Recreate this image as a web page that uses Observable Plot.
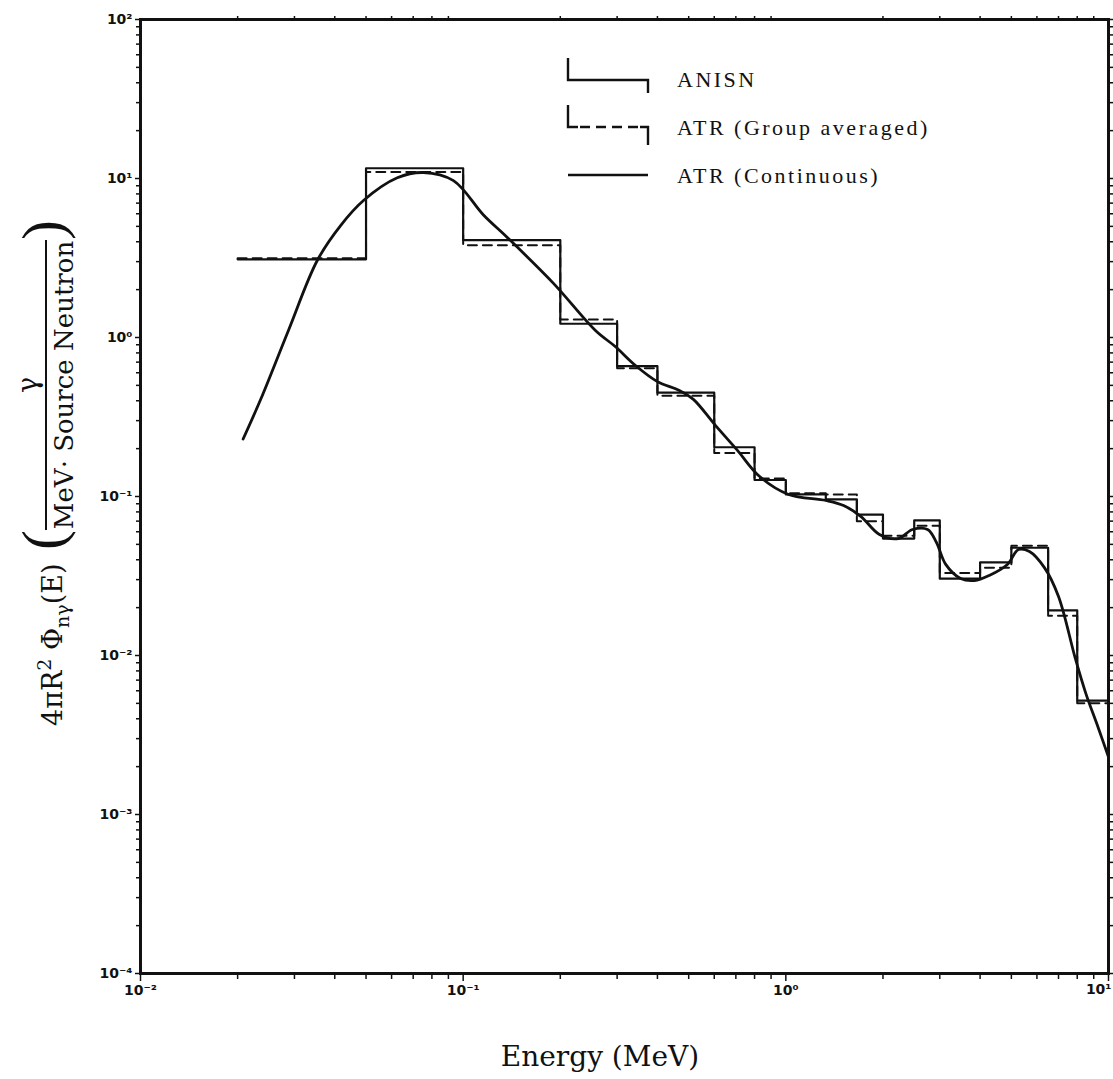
<!DOCTYPE html>
<html><head><meta charset="utf-8">
<script src="https://cdn.jsdelivr.net/npm/d3@7"></script>
<script src="https://cdn.jsdelivr.net/npm/@observablehq/plot@0.6"></script>
<style>html,body{margin:0;padding:0;background:#fff} svg{display:block}</style>
</head><body><div id="chart"></div>
<script>
// Group boundaries (MeV) of the 18-group gamma structure
const groupEdges = [0.02, 0.05, 0.1, 0.2, 0.3, 0.4, 0.6, 0.8, 1.0, 1.33, 1.66, 2.0, 2.5, 3.0, 4.0, 5.0, 6.5, 8.0, 10.0];
// ANISN group values (solid histogram)
const anisnFlux = [3.1, 11.6, 4.1, 1.22, 0.66, 0.45, 0.204, 0.127, 0.103, 0.096, 0.077, 0.0544, 0.0708, 0.0304, 0.0385, 0.0476, 0.0192, 0.0052];
// ATR group averaged values (dashed histogram)
const atrGroupFlux = [3.15, 11.0, 3.8, 1.3, 0.64, 0.43, 0.188, 0.13, 0.105, 0.103, 0.070, 0.0567, 0.0655, 0.033, 0.0356, 0.049, 0.0178, 0.0050];
// ATR continuous curve
const atrContEnergy = [0.0208, 0.0236, 0.0287, 0.0353, 0.0417, 0.0491, 0.0625, 0.0753, 0.0933, 0.1156, 0.137, 0.1905, 0.257, 0.296, 0.342, 0.400, 0.468, 0.517, 0.605, 0.708, 0.828, 1.02, 1.33, 1.51, 1.71, 1.95, 2.23, 2.47, 2.75, 2.93, 3.13, 3.48, 3.84, 4.27, 4.86, 5.26, 5.69, 6.33, 7.00, 7.89, 8.5, 9.3, 10.0];
const atrContFlux   = [0.23, 0.41, 1.1, 3.05, 5.06, 7.27, 10.1, 10.9, 9.7, 5.9, 4.26, 2.19, 1.107, 0.877, 0.667, 0.528, 0.464, 0.408, 0.280, 0.195, 0.134, 0.103, 0.0944, 0.0878, 0.0748, 0.0577, 0.0544, 0.0620, 0.0620, 0.0514, 0.0374, 0.0305, 0.0296, 0.0319, 0.0374, 0.0464, 0.0451, 0.0357, 0.0235, 0.0096, 0.0058, 0.0035, 0.0023];
// Axis ticks
const yTickValues = [1e-4, 1e-3, 1e-2, 1e-1, 1, 10, 100];
const yTickLabels = ["10⁻⁴", "10⁻³", "10⁻²", "10⁻¹", "10⁰", "10¹", "10²"];
const xTickValues = [0.01, 0.1, 1, 10];
const xTickLabels = ["10⁻²", "10⁻¹", "10⁰", "10¹"];
const legendLabels = ["ANISN", "ATR (Group averaged)", "ATR (Continuous)"];
const xTitle = "Energy (MeV)";

const stepRows = vals => groupEdges.map((e, i) => ({E: e, v: vals[Math.min(i, vals.length - 1)]}));
const contRows = atrContEnergy.map((e, i) => ({E: e, v: atrContFlux[i]}));
const minor = (lo, hi) => { const out = []; for (let p = lo; p < hi; p++) for (let m = 2; m <= 9; m++) out.push(m * Math.pow(10, p)); return out; };
const minorX = minor(-2, 1), minorY = minor(-4, 2);
const ink = "#111";
const tickText = {fontFamily: "DejaVu Sans", fontWeight: "bold", fontSize: 14, fill: ink};
const xLab = d => xTickLabels[xTickValues.indexOf(d)];

const plot = Plot.plot({
  width: 1113, height: 1079,
  marginLeft: 140, marginRight: 5, marginTop: 19, marginBottom: 106,
  style: {background: "#fff", color: ink},
  x: {type: "log", domain: [0.01, 10]},
  y: {type: "log", domain: [1e-4, 100]},
  marks: [
    Plot.axisX({anchor: "bottom", ticks: minorX, tickSize: 6, tickFormat: () => "", label: null, strokeWidth: 1.5}),
    Plot.axisX({anchor: "top", ticks: minorX, tickSize: 4, tickFormat: () => "", label: null, strokeWidth: 1.5}),
    Plot.axisX({anchor: "bottom", ticks: xTickValues.slice(0, 3), tickSize: 8, tickPadding: 4, label: null, strokeWidth: 1.5,
      tickFormat: xLab, ...tickText}),
    Plot.axisX({anchor: "bottom", ticks: xTickValues.slice(3), tickSize: 8, tickFormat: () => "", label: null, strokeWidth: 1.5}),
    Plot.text(xTickValues.slice(3), {x: d => d, frameAnchor: "bottom", dy: 20, dx: 3, textAnchor: "end",
      text: xLab, ...tickText}),
    Plot.axisY({anchor: "left", ticks: minorY, tickSize: 4, tickFormat: () => "", label: null, strokeWidth: 1.5}),
    Plot.axisY({anchor: "right", ticks: minorY, tickSize: 4, tickFormat: () => "", label: null, strokeWidth: 1.5}),
    Plot.axisY({anchor: "left", ticks: yTickValues, tickSize: 5, tickPadding: 3, label: null, strokeWidth: 1.5,
      tickFormat: d => yTickLabels[yTickValues.indexOf(d)], ...tickText}),
    Plot.axisY({anchor: "right", ticks: yTickValues, tickSize: 8, tickFormat: () => "", label: null, strokeWidth: 1.5}),
    Plot.line(stepRows(anisnFlux), {x: "E", y: "v", curve: "step-after", stroke: ink, strokeWidth: 2.2}),
    Plot.line(stepRows(atrGroupFlux), {x: "E", y: "v", curve: "step-after", stroke: ink, strokeWidth: 2, strokeDasharray: "9,6"}),
    Plot.line(contRows, {x: "E", y: "v", curve: "catmull-rom", stroke: ink, strokeWidth: 2.8}),
    Plot.frame({stroke: ink, strokeWidth: 3})
  ]
});
document.getElementById("chart").appendChild(plot);

const svg = d3.select(plot);
// Legend
const lg = svg.append("g").attr("stroke", ink).attr("fill", "none").attr("stroke-width", 2.4);
lg.append("path").attr("d", "M568,58V80H648V93");
lg.append("path").attr("d", "M568,105V127H578");
lg.append("path").attr("d", "M580,127H640").attr("stroke-dasharray", "10,6");
lg.append("path").attr("d", "M640,127H648V145");
lg.append("path").attr("d", "M568,175H648");
const lt = svg.append("g").attr("font-family", "Liberation Serif").attr("font-size", 22)
  .attr("letter-spacing", 2.5).attr("text-anchor", "start").attr("fill", ink);
[87, 135, 183].forEach((y, i) => lt.append("text").attr("x", 677).attr("y", y).text(legendLabels[i]));

// X title
svg.append("text").attr("x", 600).attr("y", 1066).attr("text-anchor", "middle")
  .attr("font-family", "DejaVu Serif").attr("font-size", 28).attr("fill", ink).text(xTitle);

// Y title
const yl = svg.append("g").attr("font-family", "DejaVu Serif").attr("fill", ink);
const t = yl.append("text").attr("transform", "translate(62,726) rotate(-90)").attr("text-anchor", "start").attr("font-size", 27);
t.append("tspan").text("4πR");
t.append("tspan").attr("dy", -11).attr("font-size", 19).text("2");
t.append("tspan").attr("dy", 11).text(" Φ");
t.append("tspan").attr("dy", 7).attr("font-size", 19).text("nγ");
t.append("tspan").attr("dy", -7).text("(E)");
yl.append("text").attr("transform", "translate(63,540) rotate(-90)").attr("text-anchor", "middle").attr("font-size", 60).attr("font-family", "Liberation Serif").text("(");
yl.append("text").attr("transform", "translate(63,230) rotate(-90)").attr("text-anchor", "middle").attr("font-size", 60).attr("font-family", "Liberation Serif").text(")");
yl.append("line").attr("x1", 46).attr("x2", 46).attr("y1", 240).attr("y2", 530).attr("stroke", ink).attr("stroke-width", 2);
yl.append("text").attr("transform", "translate(37,385) rotate(-90)").attr("text-anchor", "middle").attr("font-size", 27).text("γ");
yl.append("text").attr("transform", "translate(73,385) rotate(-90)").attr("text-anchor", "middle").attr("font-size", 26).text("MeV· Source Neutron");
</script>
</body></html>
